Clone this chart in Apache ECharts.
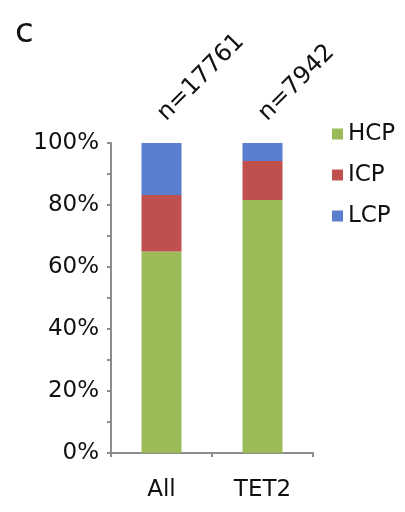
<!DOCTYPE html>
<html>
<head>
<meta charset="utf-8">
<script src="https://cdn.jsdelivr.net/npm/echarts@6/dist/echarts.min.js"></script>
<style>
  html,body{margin:0;padding:0;background:#fff;}
  #chart{width:405px;height:512px;}
</style>
</head>
<body>
<div id="chart"></div>
<script>
// promoter classes per gene set, percent of genes
const categories = ['All', 'TET2'];
const nLabels = ['n=17761', 'n=7942'];
const hcp = [65, 81.6];
const icp = [18.2, 12.6];
const lcp = [16.8, 5.8];
const yTickLabels = ['0%', '20%', '40%', '60%', '80%', '100%'];

const font = 'DejaVu Sans';
const axisGrey = '#8c8c8c';

const chart = echarts.init(document.getElementById('chart'), null, {renderer: 'canvas'});

const option = {
    backgroundColor: '#fff',
    animation: false,
    title: {
        text: 'c',
        left: 10,
        top: 11,
        textStyle: {fontFamily: font, fontSize: 34, fontWeight: 'normal', color: '#111'}
    },
    legend: {
        orient: 'vertical',
        left: 327,
        top: 115,
        itemWidth: 11,
        itemHeight: 11,
        itemGap: 13,
        icon: 'rect',
        data: ['HCP', 'ICP', 'LCP'],
        textStyle: {fontFamily: font, fontSize: 23, color: '#111', lineHeight: 28}
    },
    grid: {left: 111, right: 92, top: 143, bottom: 59},
    xAxis: [
        {
            type: 'category',
            data: categories,
            axisLine: {lineStyle: {color: axisGrey, width: 2}},
            axisTick: {show: true, length: 4, lineStyle: {color: axisGrey, width: 2}},
            axisLabel: {fontFamily: font, fontSize: 23, color: '#111', margin: 26}
        },
        {
            type: 'category',
            position: 'top',
            data: nLabels,
            axisLine: {show: false},
            axisTick: {show: false},
            axisLabel: {fontFamily: font, fontSize: 24, color: '#111', rotate: -45, margin: 26}
        }
    ],
    yAxis: {
        type: 'value',
        min: 0,
        max: 100,
        interval: 10,
        splitLine: {show: false},
        axisLine: {show: true, lineStyle: {color: axisGrey, width: 2}},
        axisTick: {show: true, length: 4, lineStyle: {color: axisGrey, width: 2}},
        axisLabel: {
            fontFamily: font, fontSize: 23, color: '#111', margin: 12,
            formatter: v => (v % 20 === 0 ? yTickLabels[v / 20] : '')
        }
    },
    series: [
        {name: 'HCP', type: 'bar', stack: 'p', barWidth: 40, data: hcp, itemStyle: {color: '#9bbb59'}},
        {name: 'ICP', type: 'bar', stack: 'p', barWidth: 40, data: icp, itemStyle: {color: '#c0504d'}},
        {name: 'LCP', type: 'bar', stack: 'p', barWidth: 40, data: lcp, itemStyle: {color: '#5b7fcf'}}
    ]
};

chart.setOption(option);
</script>
</body>
</html>
